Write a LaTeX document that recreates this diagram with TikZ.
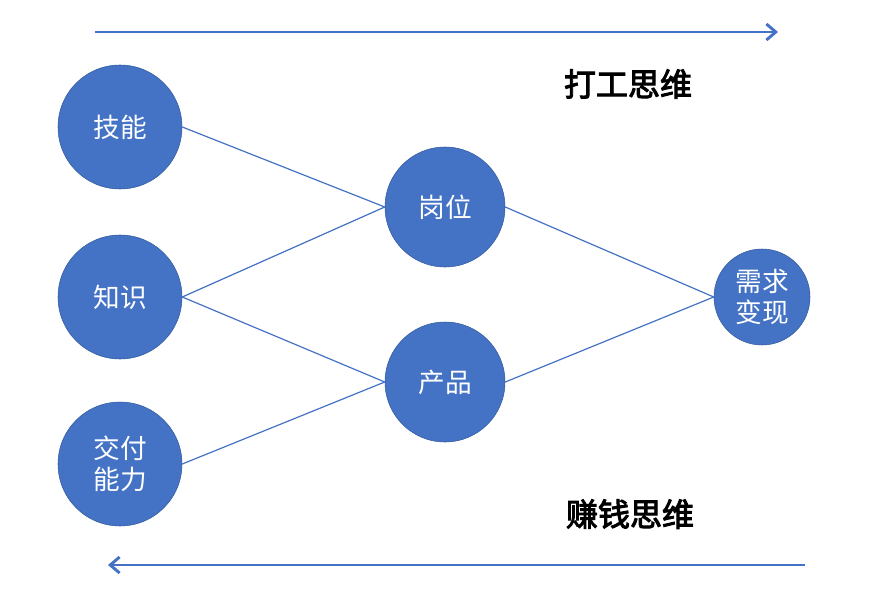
\documentclass[tikz,border=0pt]{standalone}
\usepackage{fontspec}
\usetikzlibrary{arrows.meta}
\newfontfamily\cjk{Noto Sans CJK SC}
\newfontfamily\cjkbold{Noto Sans CJK SC}[AutoFakeBold=3]
\definecolor{skillblue}{RGB}{68,114,196}
\tikzset{
  bigball/.style={circle,fill=skillblue,draw=skillblue!80!black,text=white,minimum size=93pt,inner sep=0pt,align=center,font=\cjk\fontsize{20}{23}\selectfont},
  smallball/.style={bigball,minimum size=72pt},
  link/.style={draw=skillblue,line width=0.9pt},
  flow/.style={draw=skillblue,line width=2.2pt,-{Straight Barb[length=7pt,width=12pt]}},
  heading/.style={font=\cjkbold\bfseries\fontsize{24}{28}\selectfont}
}
\begin{document}
\begin{tikzpicture}[x=0.75pt,y=-0.75pt]
\useasboundingbox (0,0) rectangle (870,592);
% circles
\node[bigball] (skill) at (120,127) {技能};
\node[bigball] (know) at (120,297) {知识};
\node[bigball] (deliver) at (120,464) {交付\\能力};
\node[bigball,minimum size=90pt] (post) at (445,207) {岗位};
\node[bigball,minimum size=90pt] (product) at (445,382) {产品};
\node[smallball] (demand) at (762,297) {需求\\变现};
% links
\draw[link] (skill.east) -- (post.west);
\draw[link] (know.east) -- (post.west);
\draw[link] (know.east) -- (product.west);
\draw[link] (deliver.east) -- (product.west);
\draw[link] (post.east) -- (demand.west);
\draw[link] (product.east) -- (demand.west);
% directions
\coordinate (topL) at (95,32);
\coordinate (topR) at (778,32);
\coordinate (botR) at (805,565);
\coordinate (botL) at (108,565);
\draw[flow] (topL) -- (topR);
\draw[flow] (botR) -- (botL);
\node[heading] (work) at (628,84) {打工思维};
\node[heading] (earn) at (630,514) {赚钱思维};
\end{tikzpicture}
\end{document}
